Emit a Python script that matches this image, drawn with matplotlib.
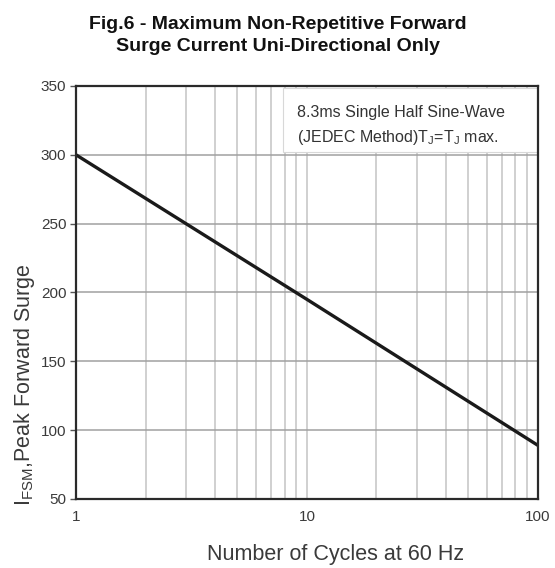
import numpy as np
from matplotlib import pyplot as plt
from matplotlib.patches import Rectangle
from matplotlib.ticker import FixedLocator, LogLocator, NullFormatter

plt.rcParams['font.family'] = ['Liberation Sans', 'DejaVu Sans']
plt.rcParams['mathtext.default'] = 'regular'

# data
cycles = [1, 10, 100]
surge = [300, 195, 89]
y_ticks = [50, 100, 150, 200, 250, 300, 350]
x_ticks = [1, 10, 100]
x_tick_labels = ['1', '10', '100']

fig = plt.figure(figsize=(5.55, 5.68), dpi=100)
ax = fig.add_axes([0.137, 0.1215, 0.832, 0.7271])

ax.set_xscale('log')
ax.set_xlim(1, 100)
ax.set_ylim(50, 350)

ax.xaxis.set_major_locator(FixedLocator(x_ticks))
ax.set_xticklabels(x_tick_labels)
ax.xaxis.set_minor_locator(LogLocator(base=10, subs=np.arange(2, 10)))
ax.xaxis.set_minor_formatter(NullFormatter())
ax.set_yticks(y_ticks)

ax.grid(True, which='both', axis='x', color='#c4c4c4', lw=1.1)
ax.grid(True, which='major', axis='y', color='#a0a0a0', lw=1.1)
ax.set_axisbelow(True)

ax.plot(cycles, surge, color='#1a1a1a', lw=2.4, solid_capstyle='round')

for s in ax.spines.values():
    s.set_linewidth(1.6)
    s.set_color('#2a2a2a')

ax.tick_params(axis='x', which='both', length=0, pad=8, labelsize=11, labelcolor='#3a3a3a')
ax.tick_params(axis='y', length=4, width=1, color='#555555', pad=3, labelsize=11,
               labelcolor='#3a3a3a')

# note box in the top right corner
ax.add_patch(Rectangle((0.448, 0.840), 0.552, 0.155, transform=ax.transAxes,
                       facecolor='white', edgecolor='#d8d8d8', lw=0.8, zorder=1.5))
ax.text(0.478, 0.937, '8.3ms Single Half Sine-Wave', transform=ax.transAxes,
        ha='left', va='center', fontsize=11.5, color='#333333', zorder=3)
ax.text(0.478, 0.876, '(JEDEC Method)T$_{J}$=T$_{J}$ max.', transform=ax.transAxes,
        ha='left', va='center', fontsize=11.5, color='#333333', zorder=3)

fig.text(0.5, 0.937, 'Fig.6 - Maximum Non-Repetitive Forward\n'
         'Surge Current Uni-Directional Only',
         ha='center', va='center', fontsize=14, fontweight='bold',
         color='#111111', linespacing=1.4)

fig.text(0.045, 0.322, 'I$_{FSM}$,Peak Forward Surge', rotation=90,
         ha='center', va='center', fontsize=15.5, color='#3a3a3a')
fig.text(0.604, 0.023, 'Number of Cycles at 60 Hz', ha='center', va='center',
         fontsize=15.5, color='#3a3a3a')

fig.savefig('out.png', dpi=100)
